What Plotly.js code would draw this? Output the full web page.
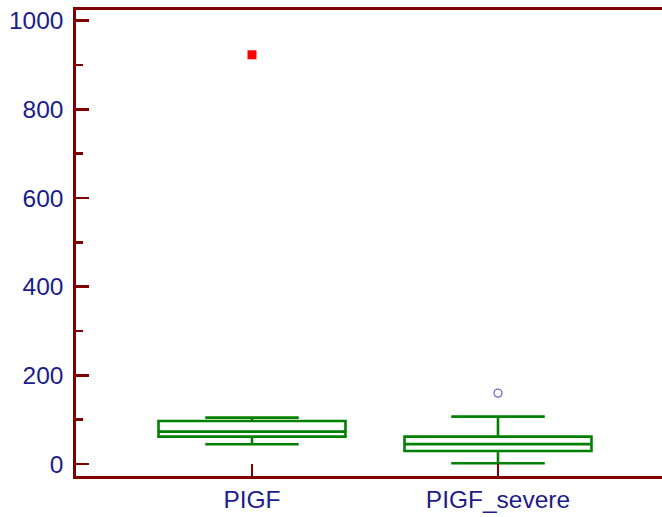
<!DOCTYPE html>
<html>
<head>
<meta charset="utf-8">
<script src="https://cdn.plot.ly/plotly-3.0.1.min.js"></script>
<style>html,body{margin:0;padding:0;overflow:hidden;background:#fff;}</style>
</head>
<body>
<div id="chart" style="width:662px;height:517px;"></div>
<script>
// Data
const categories = ["PIGF", "PIGF_severe"];
const positions = [1, 2];
const lowerWhisker = [44.5, 1.6];
const q1Values = [61.7, 29.4];
const medianValues = [73, 45];
const q3Values = [97.2, 61.7];
const upperWhisker = [104.6, 107];
const farOutlierX = [1];
const farOutlierY = [923];
const outlierX = [2];
const outlierY = [160];

const axisColor = "#800000";
const textColor = "#1c1c8a";

const traces = [
  {
    type: "box",
    x: positions,
    q1: q1Values,
    median: medianValues,
    q3: q3Values,
    lowerfence: lowerWhisker,
    upperfence: upperWhisker,
    width: 0.76,
    whiskerwidth: 0.5,
    boxpoints: false,
    line: {color: "#008000", width: 2.6},
    fillcolor: "#ffffff",
    hoverinfo: "skip",
    showlegend: false
  },
  {
    type: "scatter",
    mode: "markers",
    x: farOutlierX,
    y: farOutlierY,
    marker: {symbol: "square", size: 9, color: "#ff0000"},
    showlegend: false
  },
  {
    type: "scatter",
    mode: "markers",
    x: outlierX,
    y: outlierY,
    marker: {symbol: "circle-open", size: 8, color: "#6a6ac8", line: {width: 1.3}},
    showlegend: false
  }
];

const layout = {
  width: 662,
  height: 517,
  margin: {l: 76, r: 0, t: 10, b: 41},
  paper_bgcolor: "#ffffff",
  plot_bgcolor: "#ffffff",
  showlegend: false,
  font: {family: "Liberation Sans, Arial, sans-serif", color: textColor, size: 24},
  xaxis: {
    range: [0.2846, 2.6667],
    tickvals: positions,
    ticktext: categories,
    ticks: "inside",
    ticklen: 12,
    tickwidth: 2.6,
    tickcolor: axisColor,
    showline: true,
    linecolor: axisColor,
    linewidth: 2.6,
    mirror: true,
    showgrid: false,
    zeroline: false,
    tickfont: {size: 24.5, color: textColor},
    ticklabelstandoff: 0
  },
  yaxis: {
    range: [-27, 1024],
    tickvals: [0, 200, 400, 600, 800, 1000],
    ticks: "inside",
    ticklen: 13,
    tickwidth: 2.6,
    tickcolor: axisColor,
    minor: {tickvals: [100, 300, 500, 700, 900], ticks: "inside", ticklen: 7, tickwidth: 2.6, tickcolor: axisColor},
    showline: true,
    linecolor: axisColor,
    linewidth: 2.6,
    showgrid: false,
    zeroline: false,
    tickfont: {size: 24.5, color: textColor},
    ticklabelstandoff: 5
  }
};

Plotly.newPlot("chart", traces, layout, {displayModeBar: false, staticPlot: true});
</script>
</body>
</html>
